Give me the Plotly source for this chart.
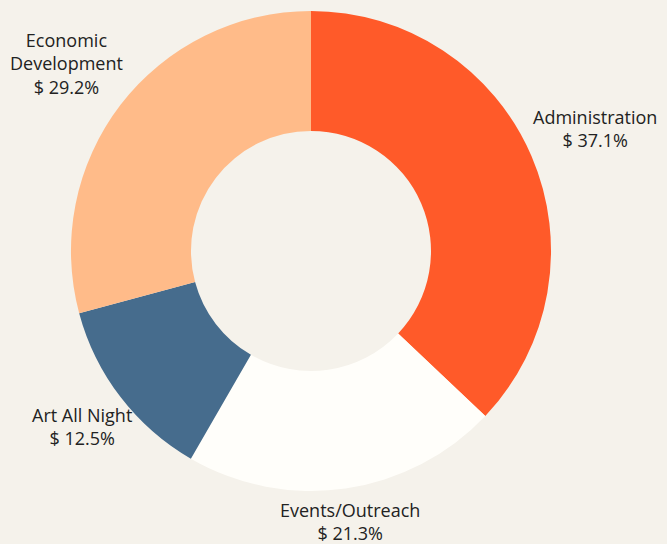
import math
import plotly.graph_objects as go

categories = ["Administration", "Events/Outreach", "Art All Night", "Economic Development"]
display_labels = ["Administration", "Events/Outreach", "Art All Night", "Economic<br>Development"]
values = [37.1, 21.3, 12.5, 29.2]
colors = ["#ff5a29", "#fffefa", "#466c8d", "#ffbb89"]

W, H = 667, 544
DOM_X = [0.1064, 0.8261]
DOM_Y = [0.0974, 0.98]
FONT_SIZE = 18
CHAR_W = 0.58 * FONT_SIZE
LINE_H = 1.3 * FONT_SIZE
GAP = 10

fig = go.Figure(go.Pie(
    labels=categories,
    values=values,
    hole=0.5,
    sort=False,
    direction="clockwise",
    rotation=0,
    automargin=False,
    domain=dict(x=DOM_X, y=DOM_Y),
    marker=dict(colors=colors, line=dict(width=0)),
    textinfo="none",
    hovertemplate="%{label}: $ %{value}%<extra></extra>",
    showlegend=False,
))

# label placement derived from the pie geometry and each slice's mid-angle
cx = W * (DOM_X[0] + DOM_X[1]) / 2
cy = H * (1 - (DOM_Y[0] + DOM_Y[1]) / 2)
r = min(W * (DOM_X[1] - DOM_X[0]), H * (DOM_Y[1] - DOM_Y[0])) / 2
total = sum(values)
cum = 0.0
annotations = []
for lab, v in zip(display_labels, values):
    theta = 2 * math.pi * (cum + v / 2) / total
    cum += v
    dx, dy = math.sin(theta), -math.cos(theta)
    lines = lab.split("<br>") + [f"$ {v}%"]
    hw = 0.5 * max(len(s) for s in lines) * CHAR_W
    hh = 0.5 * len(lines) * LINE_H
    ext = min(hw / max(abs(dx), 1e-6), hh / max(abs(dy), 1e-6))
    d = r + GAP + ext
    px, py = cx + dx * d, cy + dy * d
    annotations.append(dict(
        x=px / W, y=1 - py / H, xref="paper", yref="paper",
        text="<br>".join(lines), showarrow=False,
        xanchor="center", yanchor="middle", align="center",
        font=dict(family="Open Sans, sans-serif", size=FONT_SIZE, color="#222222"),
    ))

fig.update_layout(
    width=W, height=H,
    paper_bgcolor="#f5f2eb",
    plot_bgcolor="#f5f2eb",
    margin=dict(l=0, r=0, t=0, b=0, autoexpand=False),
    annotations=annotations,
)
fig.write_html(
    "out.html",
    config={"displayModeBar": False},
    post_script="document.body.style.margin='0';document.body.style.background='#f5f2eb';",
)
